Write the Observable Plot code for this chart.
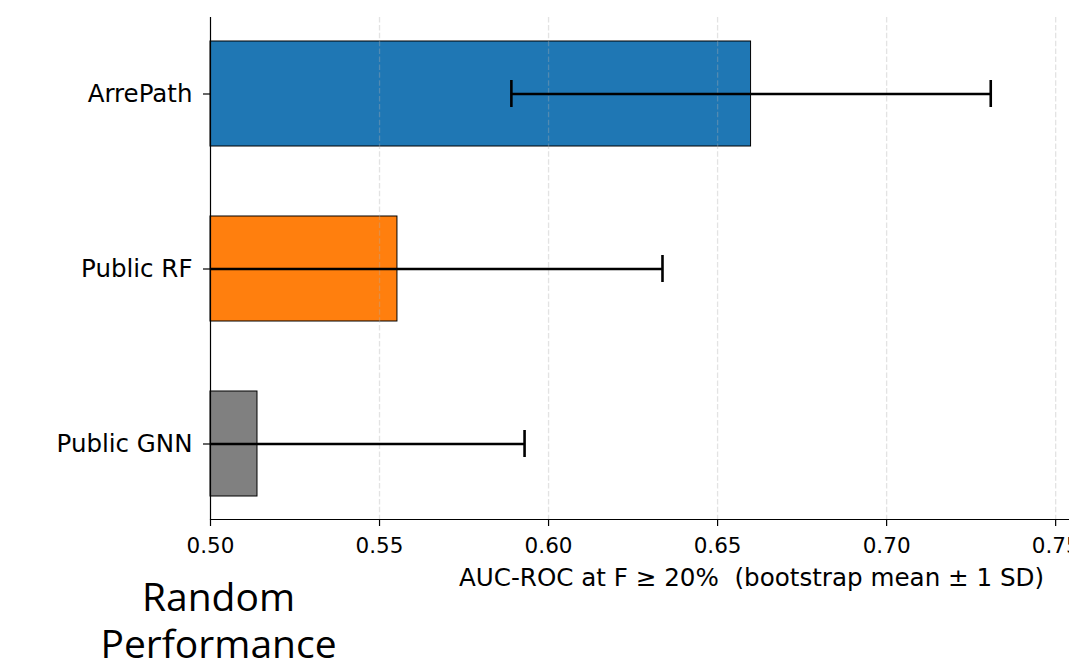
<!DOCTYPE html>
<html>
<head>
<meta charset="utf-8">
<script src="https://cdn.jsdelivr.net/npm/d3@7"></script>
<script src="https://cdn.jsdelivr.net/npm/@observablehq/plot@0.6"></script>
<style>
  html, body { margin: 0; padding: 0; background: #fff; overflow: hidden; }
  #chart svg { display: block; }
</style>
</head>
<body>
<div id="chart"></div>
<script>
const models = ["ArrePath", "Public RF", "Public GNN"];
const means = [0.6599, 0.5553, 0.5139];
const sds = [0.0709, 0.0784, 0.0790];
const colors = ["#1f77b4", "#ff7f0e", "#808080"];
const xTicks = [0.50, 0.55, 0.60, 0.65, 0.70, 0.75];
const xLabel = "AUC-ROC at F \u2265 20%  (bootstrap mean \u00b1 1 SD)";
const noteLines = ["Random", "Performance"];

const data = models.map((m, i) => ({
  model: m, mean: means[i], sd: sds[i], color: colors[i],
  lo: means[i] - sds[i], hi: means[i] + sds[i]
}));

const font = "DejaVu Sans, sans-serif";

const chart = Plot.plot({
  width: 1069,
  height: 663,
  marginLeft: 210,
  marginRight: 1,
  marginTop: 17,
  marginBottom: 144,
  style: { fontFamily: font, background: "#fff", color: "#000", overflow: "visible" },
  x: { domain: [0.5, 0.7538] },
  y: { domain: models, paddingInner: 0.4, paddingOuter: 0.134 },
  color: { type: "identity" },
  marks: [
    Plot.barX(data, { y: "model", x1: () => 0.5, x2: "mean", fill: "color", stroke: "#000", strokeWidth: 1 }),
    Plot.gridX(xTicks.slice(1), { stroke: "#b0b0b0", strokeOpacity: 0.35, strokeWidth: 1.3, strokeDasharray: "5.5,2.4" }),
    Plot.ruleY(data, { y: "model", x1: "lo", x2: "hi", stroke: "#000", strokeWidth: 2.6, clip: true }),
    Plot.tickX(data, { y: "model", x: "hi", stroke: "#000", strokeWidth: 2.6, insetTop: 39, insetBottom: 39, clip: true }),
    Plot.tickX(data, { y: "model", x: "lo", stroke: "#000", strokeWidth: 2.6, insetTop: 39, insetBottom: 39, clip: true }),
    Plot.ruleX([0.5], { stroke: "#000", strokeWidth: 1.2 }),
    Plot.frame({ anchor: "bottom", stroke: "#000", strokeWidth: 1.2 }),
    Plot.axisX({ ticks: xTicks, tickFormat: d3.format(".2f"), tickSize: 7, tickPadding: 11, fontSize: 21.5, label: null, stroke: "#000", strokeWidth: 1.2 }),
    Plot.axisY({ tickSize: 7, tickPadding: 11, fontSize: 24.5, label: null, stroke: "#000", strokeWidth: 1.2 }),
    Plot.text([xLabel], { frameAnchor: "bottom", text: d => d, dx: 112, dy: 59, lineAnchor: "middle", fontSize: 24.6, fill: "#000" }),
    Plot.text([noteLines[0]], { frameAnchor: "bottom-left", text: d => d, textAnchor: "middle", dx: 8, dy: 79, lineAnchor: "middle", fontSize: 39, fontFamily: "Open Sans, sans-serif", fill: "#000" }),
    Plot.text([noteLines[1]], { frameAnchor: "bottom-left", text: d => d, textAnchor: "middle", dx: 8, dy: 126, lineAnchor: "middle", fontSize: 39, fontFamily: "Open Sans, sans-serif", fill: "#000" })
  ]
});
document.getElementById("chart").appendChild(chart);
</script>
</body>
</html>
